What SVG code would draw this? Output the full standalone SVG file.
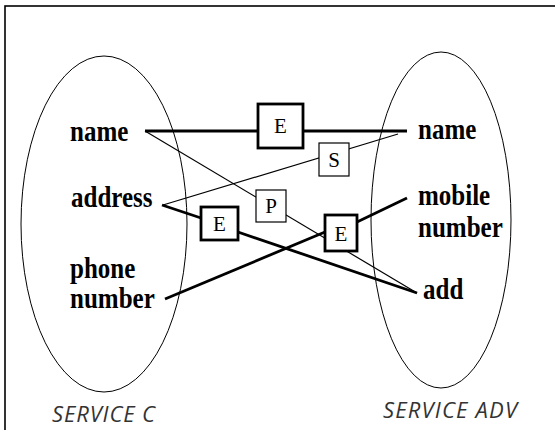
<svg xmlns="http://www.w3.org/2000/svg" width="555" height="430" viewBox="0 0 555 430">
<style>
.frame{fill:none;stroke:#000;stroke-width:1.6}
.set{fill:none;stroke:#000;stroke-width:1}
.thick{fill:none;stroke:#000;stroke-width:2.8}
.thin{fill:none;stroke:#000;stroke-width:1.2}
.boxT{fill:#fff;stroke:#000;stroke-width:2.8}
.boxt{fill:#fff;stroke:#000;stroke-width:1.2}
.lab{font-family:"Liberation Serif",serif;font-weight:bold;font-size:25px;fill:#000}
.op{font-family:"Liberation Serif",serif;font-size:21px;fill:#000;text-anchor:middle}
.svc{font-family:"Open Sans","DejaVu Sans",sans-serif;font-style:italic;font-size:22px;fill:#333}
</style>
<rect class="frame" x="5" y="6" width="600" height="500"/>
<g id="serviceC">
<ellipse class="set" cx="104" cy="224" rx="83" ry="168"/>
<text class="svc" x="52" y="422" textLength="103">SERVICE C</text>
</g>
<g id="serviceADV">
<ellipse class="set" cx="441" cy="220" rx="70" ry="168"/>
<text class="svc" x="383" y="418" textLength="134">SERVICE ADV</text>
</g>
<g id="connectors">
<line class="thick" x1="145" y1="131" x2="407" y2="131"/>
<line class="thin" x1="163" y1="205" x2="398" y2="134"/>
<line class="thin" x1="145" y1="131" x2="417" y2="293"/>
<line class="thick" x1="162" y1="205" x2="201" y2="218"/>
<line class="thick" x1="235" y1="231" x2="417" y2="293"/>
<line class="thick" x1="165" y1="299" x2="325" y2="232"/>
<line class="thick" x1="357" y1="222" x2="407" y2="198"/>
</g>
<g id="opE1">
<rect class="boxT" x="258" y="104" width="45" height="44"/>
<text class="op" x="280.5" y="133">E</text>
</g>
<g id="opS">
<rect class="boxt" x="319" y="143" width="30" height="33"/>
<text class="op" x="334" y="167">S</text>
</g>
<g id="opP">
<rect class="boxt" x="256" y="190" width="30" height="32"/>
<text class="op" x="271" y="213">P</text>
</g>
<g id="opE2">
<rect class="boxT" x="201" y="207" width="37" height="33"/>
<text class="op" x="219.5" y="231">E</text>
</g>
<g id="opE3">
<rect class="boxT" x="325" y="215" width="32" height="36"/>
<text class="op" x="341" y="241">E</text>
</g>
<g id="c_name"><text class="lab" transform="translate(70,141) scale(1,1.15)">name</text></g>
<g id="c_address"><text class="lab" transform="translate(71,207) scale(1,1.15)">address</text></g>
<g id="c_phone"><text class="lab" transform="translate(70,278) scale(1,1.15)">phone</text><text class="lab" transform="translate(70,308) scale(1,1.15)">number</text></g>
<g id="a_name"><text class="lab" transform="translate(418,139) scale(1,1.15)">name</text></g>
<g id="a_mobile"><text class="lab" transform="translate(418,205) scale(1,1.15)">mobile</text><text class="lab" transform="translate(418,237) scale(1,1.15)">number</text></g>
<g id="a_add"><text class="lab" transform="translate(423,299) scale(1,1.15)">add</text></g>
</svg>
